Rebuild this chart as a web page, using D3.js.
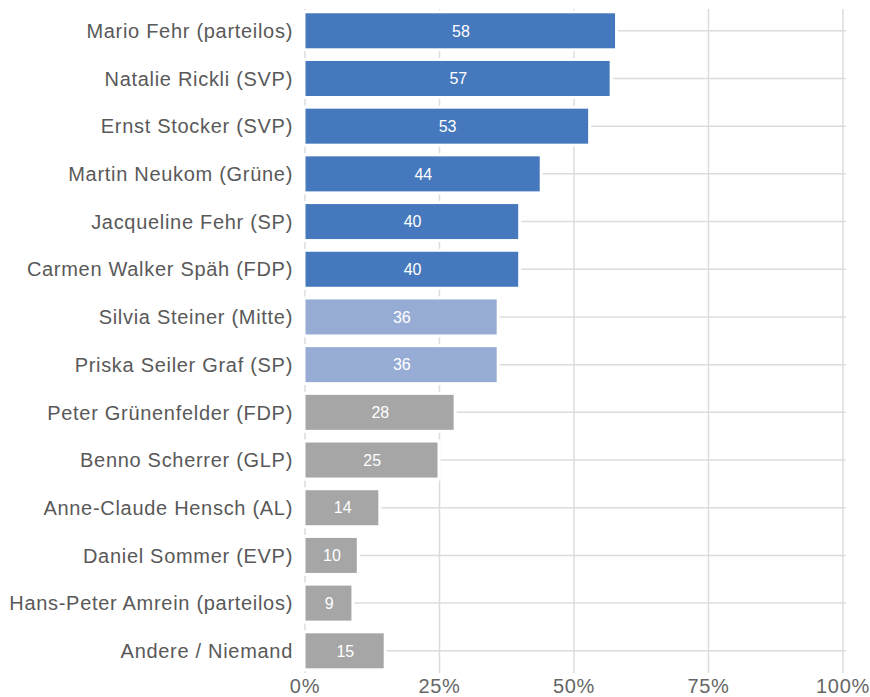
<!DOCTYPE html>
<html>
<head>
<meta charset="utf-8">
<script src="https://cdn.jsdelivr.net/npm/d3@7"></script>
<style>
body { margin: 0; background: #fff; }
svg text { font-family: "Liberation Sans", Arial, sans-serif; }
</style>
</head>
<body>
<div id="chart"></div>
<script>
// data
var names = [
	"Mario Fehr (parteilos)", "Natalie Rickli (SVP)", "Ernst Stocker (SVP)",
	"Martin Neukom (Grüne)", "Jacqueline Fehr (SP)", "Carmen Walker Späh (FDP)",
	"Silvia Steiner (Mitte)", "Priska Seiler Graf (SP)", "Peter Grünenfelder (FDP)",
	"Benno Scherrer (GLP)", "Anne-Claude Hensch (AL)", "Daniel Sommer (EVP)",
	"Hans-Peter Amrein (parteilos)", "Andere / Niemand"
];
var values = [58, 57, 53, 44, 40, 40, 36, 36, 28, 25, 14, 10, 9, 15];
var groups = ["in", "in", "in", "in", "in", "in", "near", "near", "out", "out", "out", "out", "out", "out"];
var ticks = [0, 25, 50, 75, 100];

var width = 870, height = 697;
var colour = { "in": "#4578bc", "near": "#97acd5", "out": "#a6a6a6" };

var svg = d3.select("#chart").append("svg")
	.attr("width", width)
	.attr("height", height);

var x = d3.scaleLinear().domain([0, 100]).range([305, 843]);
var y = d3.scaleBand().domain(names).range([0.6, 681]).padding(0.266);

// vertical grid
svg.append("g")
	.selectAll("line")
	.data(ticks)
	.enter()
	.append("line")
	.attr("x1", function(d) { return x(d); })
	.attr("x2", function(d) { return x(d); })
	.attr("y1", 9)
	.attr("y2", 673)
	.style("stroke", "#dcdcdc")
	.style("stroke-width", 1.5);

// horizontal grid at bar centre
svg.append("g")
	.selectAll("line")
	.data(names)
	.enter()
	.append("line")
	.attr("x1", x(0))
	.attr("x2", x(100) + 3)
	.attr("y1", function(d) { return y(d) + y.bandwidth() / 2; })
	.attr("y2", function(d) { return y(d) + y.bandwidth() / 2; })
	.style("stroke", "#dcdcdc")
	.style("stroke-width", 1.5);

// bars with white halo
var bar = svg.append("g")
	.selectAll("g")
	.data(values)
	.enter()
	.append("g");

bar.append("rect")
	.attr("x", x(0) - 3)
	.attr("y", function(d, i) { return y(names[i]) - 3; })
	.attr("width", function(d) { return x(d) - x(0) + 4; })
	.attr("height", y.bandwidth() + 6)
	.attr("fill", "#fff");

bar.append("rect")
	.attr("x", x(0) + 0.5)
	.attr("y", function(d, i) { return y(names[i]); })
	.attr("width", function(d) { return x(d) - x(0) - 2.5; })
	.attr("height", y.bandwidth())
	.attr("fill", function(d, i) { return colour[groups[i]]; });

bar.append("text")
	.attr("x", function(d) { return (x(0) + x(d)) / 2; })
	.attr("y", function(d, i) { return y(names[i]) + y.bandwidth() / 2; })
	.attr("dy", "0.36em")
	.attr("text-anchor", "middle")
	.style("fill", "#fff")
	.style("font-size", "16px")
	.text(function(d) { return d; });

// category labels
svg.append("g")
	.selectAll("text")
	.data(names)
	.enter()
	.append("text")
	.attr("x", 293)
	.attr("y", function(d) { return y(d) + y.bandwidth() / 2; })
	.attr("dy", "0.36em")
	.attr("text-anchor", "end")
	.style("fill", "#595959")
	.style("font-size", "20px")
	.style("letter-spacing", "0.7px")
	.text(function(d) { return d; });

// x axis labels
svg.append("g")
	.selectAll("text")
	.data(ticks)
	.enter()
	.append("text")
	.attr("x", function(d) { return x(d); })
	.attr("y", 686)
	.attr("dy", "0.36em")
	.attr("text-anchor", "middle")
	.style("fill", "#666")
	.style("font-size", "20px")
	.style("letter-spacing", "0.7px")
	.text(function(d) { return d + "%"; });
</script>
</body>
</html>
